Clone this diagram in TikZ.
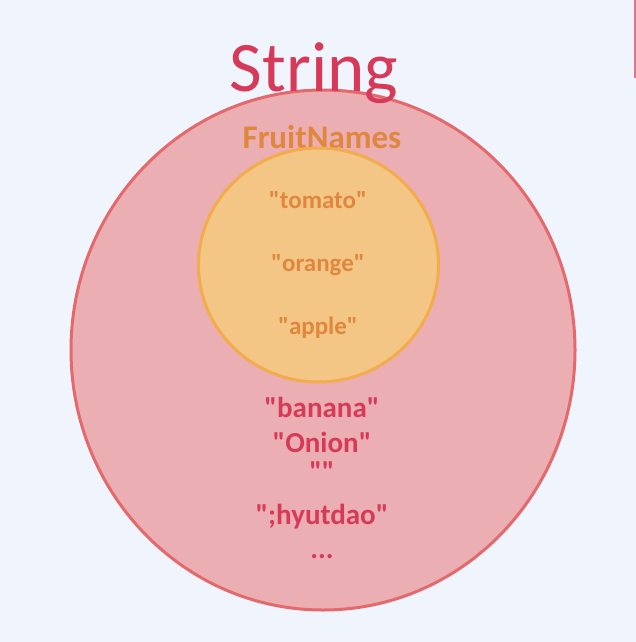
\documentclass[tikz,border=0pt]{standalone}
\usepackage{fontspec}
\setmainfont{Carlito}[Ligatures=TeXOff]
\definecolor{bg}{HTML}{F0F5FD}
\definecolor{bigfill}{HTML}{EBAEB3}
\definecolor{bigline}{HTML}{E4696C}
\definecolor{smallfill}{HTML}{F4C685}
\definecolor{smallline}{HTML}{F2AC4C}
\definecolor{orangetxt}{HTML}{E0873F}
\definecolor{redtxt}{HTML}{D63A58}
\definecolor{edgeline}{HTML}{D9788C}
\tikzset{
  settxt/.style={font=\bfseries\fontsize{29}{31}\selectfont, text=redtxt, inner sep=0pt},
  subtxt/.style={font=\bfseries\fontsize{25}{27}\selectfont, text=orangetxt, inner sep=0pt},
}
\begin{document}
\begin{tikzpicture}[x=1pt,y=-1pt]
\fill[bg] (0,0) rectangle (636,642);
\useasboundingbox (0,0) rectangle (636,642);
\draw[edgeline, line width=1.5pt] (635,0) -- (635,78);
\draw[bigline, fill=bigfill, line width=3pt] (323,350) ellipse [x radius=252, y radius=260];
\node[font=\fontsize{71}{75}\selectfont, text=redtxt, anchor=base, inner sep=0pt] (string) at (314,92) {String};
\node[font=\bfseries\fontsize{33}{35}\selectfont, text=orangetxt, anchor=base, inner sep=0pt] (fruitnames) at (322,148) {FruitNames};
\draw[smallline, fill=smallfill, line width=3pt] (318.5,265) ellipse [x radius=120, y radius=117];
\node[subtxt] (tomato) at (318,200) {"tomato"};
\node[subtxt] (orange) at (318,265) {"orange"};
\node[subtxt] (apple) at (318,328) {"apple"};
\node[settxt] (banana) at (322,407) {"banana"};
\node[settxt] (onion) at (322,442) {"Onion"};
\node[settxt] (empty) at (322,472) {""};
\node[settxt] (hyut) at (322,517) {";hyutdao"};
\node[settxt] (dots) at (322,557) {...};
\end{tikzpicture}
\end{document}
